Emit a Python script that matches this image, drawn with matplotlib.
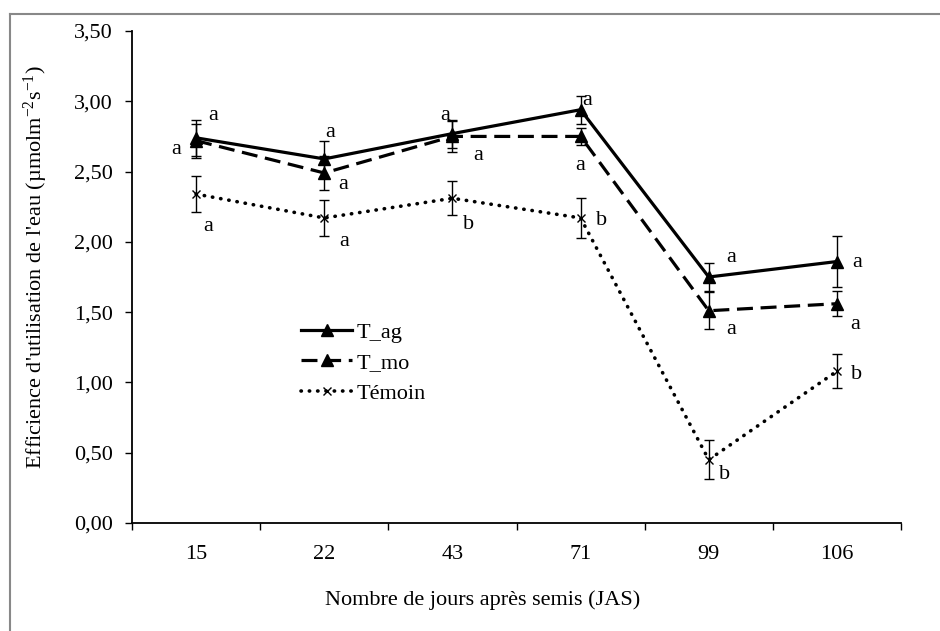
import numpy as np
import matplotlib
matplotlib.use('Agg')
import matplotlib.pyplot as plt
from matplotlib.lines import Line2D

plt.rcParams['font.family'] = ['Liberation Serif', 'DejaVu Serif']
plt.rcParams['mathtext.fontset'] = 'custom'
plt.rcParams['mathtext.rm'] = 'Liberation Serif'
plt.rcParams['mathtext.it'] = 'Liberation Serif'

# data
jours = ['15', '22', '43', '71', '99', '106']
t_ag = [2.74, 2.59, 2.77, 2.94, 1.75, 1.86]
t_ag_err = [0.13, 0.13, 0.10, 0.10, 0.10, 0.18]
t_mo = [2.72, 2.49, 2.75, 2.75, 1.51, 1.56]
t_mo_err = [0.12, 0.12, 0.11, 0.06, 0.13, 0.09]
temoin = [2.34, 2.17, 2.31, 2.17, 0.45, 1.08]
temoin_err = [0.13, 0.13, 0.12, 0.14, 0.14, 0.12]

lettres_ag = ['a', 'a', 'a', 'a', 'a', 'a']
lettres_mo = ['a', 'a', 'a', 'a', 'a', 'a']
lettres_tem = ['a', 'a', 'b', 'b', 'b', 'b']

FS = 16
fig = plt.figure(figsize=(9.4, 6.31), dpi=100)
ax = fig.add_axes([132/940, 1-523/631, (901-132)/940, (523-31)/631])

x = np.arange(len(jours))
pointille = (0, (0.1, 2.2))
tirets = (0, (5, 2.4))

ax.errorbar(x, t_ag, yerr=t_ag_err, color='black', lw=2.3, ls='-',
            marker='^', ms=8, capsize=3.5, elinewidth=1.0, ecolor='black', zorder=3)
ax.errorbar(x, t_mo, yerr=t_mo_err, color='black', lw=2.3, ls=tirets,
            marker='^', ms=8, capsize=3.5, elinewidth=1.0, ecolor='black', zorder=3)
ax.errorbar(x, temoin, yerr=temoin_err, color='black', lw=2.6, ls=pointille,
            dash_capstyle='round', marker='x', ms=6, mew=1.0,
            capsize=3.5, elinewidth=1.0, ecolor='black', zorder=3)

# lettres de signification (offsets in pixels, y vers le haut)
def lettre(i, y, txt, dx, dy):
    ax.annotate(txt, (x[i], y), xytext=(dx, dy), textcoords='offset pixels',
                ha='center', va='center', fontsize=FS)

off_ag = [(17, 22), (6, 26), (-7, 18), (7, 9), (22, 19), (20, -1)]
off_mo = [(-20, -9), (19, -12), (26, -19), (0, -29), (22, -19), (18, -21)]
off_tem = [(12, -32), (20, -24), (16, -26), (21, -3), (16, -15), (20, -3)]
for i in range(len(jours)):
    lettre(i, t_ag[i], lettres_ag[i], *off_ag[i])
    lettre(i, t_mo[i], lettres_mo[i], *off_mo[i])
    lettre(i, temoin[i], lettres_tem[i], *off_tem[i])

ax.set_xlim(-0.5, len(jours) - 0.5)
ax.set_ylim(0, 3.5)
yt = np.arange(0, 3.51, 0.5)
ax.set_yticks(yt)
ax.set_yticklabels([('%.2f' % v).replace('.', ',') for v in yt])
ax.set_xticks(x)
ax.set_xticklabels(jours)
ax.set_xticks(np.arange(-0.5, len(jours)), minor=True)
ax.tick_params(axis='x', which='major', length=0, pad=16, labelsize=FS)
ax.tick_params(axis='x', which='minor', length=5, width=1, direction='out')
ax.tick_params(axis='y', length=5, width=1, direction='out', pad=9, labelsize=FS)

for s in ['top', 'right']:
    ax.spines[s].set_visible(False)
ax.spines['left'].set_linewidth(1.3)
ax.spines['bottom'].set_linewidth(1.3)

ax.set_xlabel('Nombre de jours après semis (JAS)', fontsize=FS)
ax.xaxis.set_label_coords((483-132)/769, -(590-523)/492)
ax.set_ylabel("Efficience d'utilisation de l'eau (µmolm$^{-2}$s$^{-1}$)", fontsize=FS)
ax.yaxis.set_label_coords((50-132)/769, 0.52)

handles = [
    Line2D([], [], color='black', lw=2.3, ls='-', marker='^', ms=8),
    Line2D([], [], color='black', lw=2.3, ls=tirets, marker='^', ms=8),
    Line2D([], [], color='black', lw=2.6, ls=pointille, marker='x', ms=6,
           mew=1.0, dash_capstyle='round'),
]
ax.legend(handles, ['T_ag', 'T_mo', 'Témoin'], frameon=False, fontsize=FS,
          loc='upper left', bbox_to_anchor=((281-132)/769, (523-302)/492),
          handlelength=2.3, handletextpad=0.2, labelspacing=0.45)

# cadre gris
fig.add_artist(Line2D([10/940, 10/940], [0, 1-14/631], color='#888888', lw=1.5))
fig.add_artist(Line2D([10/940, 1], [1-14/631, 1-14/631], color='#888888', lw=1.5))

fig.savefig('out.png', dpi=100)
